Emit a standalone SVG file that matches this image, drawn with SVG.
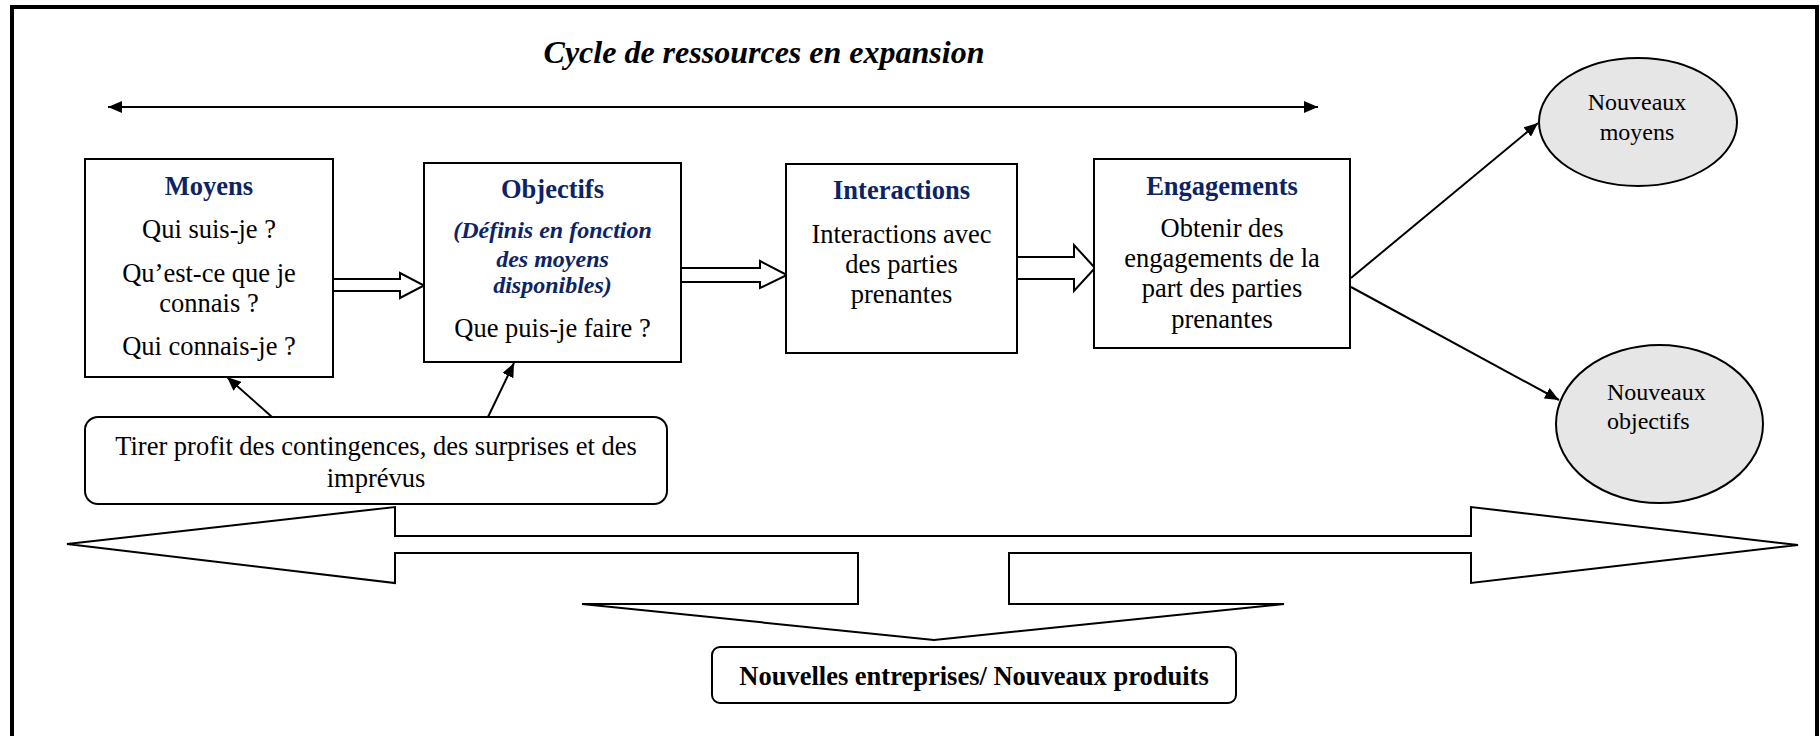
<svg xmlns="http://www.w3.org/2000/svg" width="1820" height="736" viewBox="0 0 1820 736">
<style>
text{font-family:"Liberation Serif","Times New Roman",serif;fill:#000;}
.t{font-size:26.5px;text-anchor:middle;}
.h{font-size:26.5px;font-weight:bold;fill:#0c2466;text-anchor:middle;}
.hi{font-size:24px;font-weight:bold;font-style:italic;fill:#0c2466;text-anchor:middle;}
.box{fill:#fff;stroke:#000;stroke-width:2;}
.ell{fill:#e6e6e6;stroke:#000;stroke-width:2;}
.ln{fill:none;stroke:#000;stroke-width:2;}
.hol{fill:#fff;stroke:#000;stroke-width:2;stroke-linejoin:miter;}
.el{font-size:24px;}
</style>
<defs>
<marker id="ah" viewBox="0 0 14 12" refX="14" refY="6" markerWidth="14" markerHeight="12" markerUnits="userSpaceOnUse" orient="auto-start-reverse">
<path d="M0,0 L14,6 L0,12 Z" fill="#000"/>
</marker>
</defs>
<rect x="12" y="7" width="1805" height="745" fill="#fff" stroke="#000" stroke-width="4"/>
<text x="764" y="63" style="font-size:32px;font-weight:bold;font-style:italic;text-anchor:middle">Cycle de ressources en expansion</text>

<g id="connectors">
<line class="ln" x1="108" y1="107" x2="1318" y2="107" marker-start="url(#ah)" marker-end="url(#ah)"/>
<polygon class="hol" points="333,279 400,279 400,273 424,285.5 400,298 400,291 333,291"/>
<polygon class="hol" points="681,268 760,268 760,261 787,275 760,288 760,282 681,282"/>
<polygon class="hol" points="1017,257 1074,257 1074,245 1095,268 1074,291 1074,279 1017,279"/>
<line class="ln" x1="272" y1="417" x2="227" y2="377" marker-end="url(#ah)"/>
<line class="ln" x1="488" y1="417" x2="514" y2="363" marker-end="url(#ah)"/>
<line class="ln" x1="1351" y1="278" x2="1538" y2="123" marker-end="url(#ah)"/>
<line class="ln" x1="1351" y1="287" x2="1559" y2="400" marker-end="url(#ah)"/>
<polygon class="hol" points="67,544 395,507 395,536 1471,536 1471,507 1798,545 1471,583 1471,553 1009,553 1009,604 1284,604 934,640 582,604 858,604 858,553 395,553 395,583"/>
</g>

<g id="moyens">
<rect class="box" x="85" y="159" width="248" height="218"/>
<text class="h" x="209" y="195">Moyens</text>
<text class="t" x="209" y="238">Qui suis-je ?</text>
<text class="t" x="209" y="282">Qu’est-ce que je</text>
<text class="t" x="209" y="312">connais ?</text>
<text class="t" x="209" y="355">Qui connais-je ?</text>
</g>

<g id="objectifs">
<rect class="box" x="424" y="163" width="257" height="199"/>
<text class="h" x="552.5" y="198">Objectifs</text>
<text class="hi" x="552.5" y="238">(Définis en fonction</text>
<text class="hi" x="552.5" y="267">des moyens</text>
<text class="hi" x="552.5" y="293">disponibles)</text>
<text class="t" x="552.5" y="337">Que puis-je faire ?</text>
</g>

<g id="interactions">
<rect class="box" x="786" y="164" width="231" height="189"/>
<text class="h" x="901.5" y="199">Interactions</text>
<text class="t" x="901.5" y="243">Interactions avec</text>
<text class="t" x="901.5" y="273">des parties</text>
<text class="t" x="901.5" y="303">prenantes</text>
</g>

<g id="engagements">
<rect class="box" x="1094" y="159" width="256" height="189"/>
<text class="h" x="1222" y="195">Engagements</text>
<text class="t" x="1222" y="237">Obtenir des</text>
<text class="t" x="1222" y="267">engagements de la</text>
<text class="t" x="1222" y="297">part des parties</text>
<text class="t" x="1222" y="328">prenantes</text>
</g>

<g id="nouveaux-moyens">
<ellipse class="ell" cx="1638" cy="122" rx="99" ry="64"/>
<text class="el" x="1637" y="110" text-anchor="middle">Nouveaux</text>
<text class="el" x="1637" y="140" text-anchor="middle">moyens</text>
</g>

<g id="nouveaux-objectifs">
<ellipse class="ell" cx="1659.5" cy="424" rx="103.5" ry="79"/>
<text class="el" x="1607" y="400">Nouveaux</text>
<text class="el" x="1607" y="429">objectifs</text>
</g>

<g id="contingences">
<rect class="box" x="85" y="417" width="582" height="87" rx="13" ry="13"/>
<text class="t" x="376" y="455">Tirer profit des contingences, des surprises et des</text>
<text class="t" x="376" y="487">imprévus</text>
</g>

<g id="nouvelles-entreprises">
<rect class="box" x="712" y="647" width="524" height="56" rx="8" ry="8"/>
<text class="t" x="974" y="685" style="font-weight:bold">Nouvelles entreprises/ Nouveaux produits</text>
</g>
</svg>
